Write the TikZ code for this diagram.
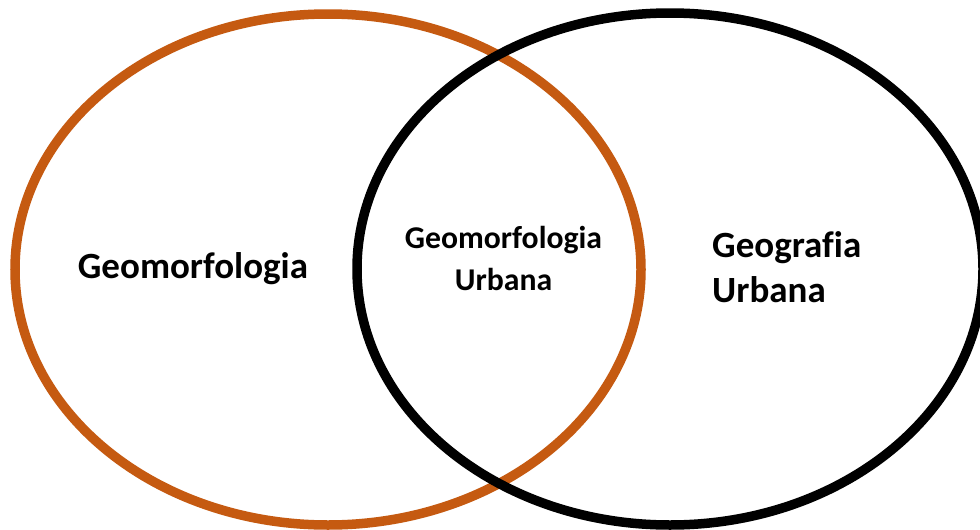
\documentclass[tikz,border=0pt]{standalone}
\usepackage{fontspec}
\setmainfont{Carlito}[Ligatures=NoCommon]
\definecolor{venorange}{RGB}{197,90,17}
\begin{document}
\begin{tikzpicture}[x=1pt,y=-1pt,
  ring/.style={line width=9.5pt},
  lbl/.style={inner sep=0pt,font=\bfseries},
]
\useasboundingbox (0,0) rectangle (980,530);
\clip (0,0) rectangle (980,530);
\fill[white] (0,0) rectangle (980,530);
\draw[ring,venorange] (328,269.5) ellipse [x radius=313pt, y radius=255.5pt];
\draw[ring,black] (670,269) ellipse [x radius=313pt, y radius=256pt];
\node[lbl,anchor=base,font=\fontsize{37}{44}\bfseries\selectfont] (geo) at (193,278) {Geomorfologia};
\node[lbl,anchor=base,font=\fontsize{31.7}{37}\bfseries\selectfont] (mid1) at (503.5,248) {Geomorfologia};
\node[lbl,anchor=base,font=\fontsize{31.7}{37}\bfseries\selectfont] (mid2) at (503.5,290) {Urbana};
\node[lbl,anchor=base west,font=\fontsize{37}{44}\bfseries\selectfont] (right1) at (712,257) {Geografia};
\node[lbl,anchor=base west,font=\fontsize{37}{44}\bfseries\selectfont] (right2) at (712,302) {Urbana};
\end{tikzpicture}
\end{document}
